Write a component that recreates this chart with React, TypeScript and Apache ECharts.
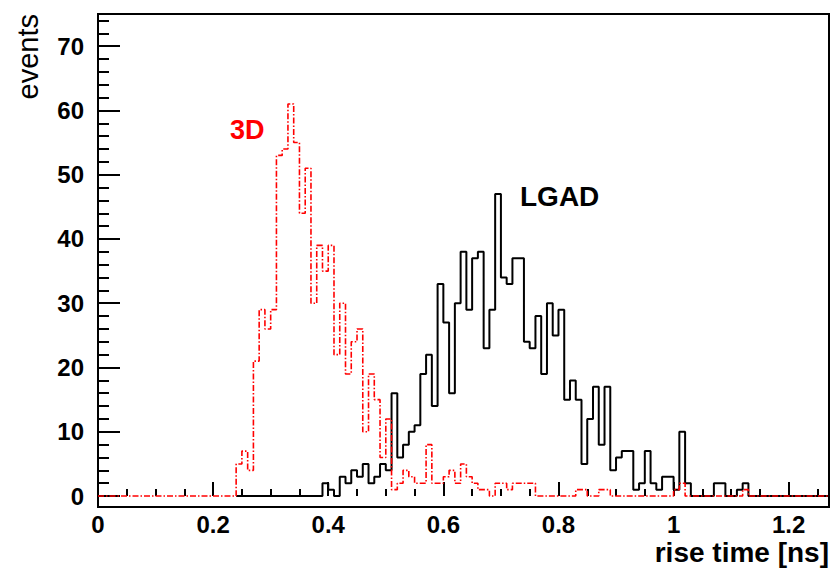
import React, { useEffect, useRef } from "react";
import * as echarts from "echarts";

// ---- data -------------------------------------------------------------
const BIN_WIDTH = 0.01; // ns
const X_MIN = 0;
const X_MAX = 1.27;
const Y_MIN = -1.7;
const Y_MAX = 75;

// LGAD histogram: counts per 0.01 ns bin, first bin starts at lgadStart
const lgadStart = 0.39;
const lgadDrawFrom = 0.24; // black outline baseline visible from here
const lgadCounts = [
  2, 1, 0, 3, 2, 4, 3, 5, 2, 3, // 0.39 - 0.48
  5, 4, 16, 6, 8, 10, 11, 19, 22, 14, // 0.49 - 0.58
  33, 27, 16, 30, 38, 29, 37, 38, 23, 29, // 0.59 - 0.68
  47, 34, 33, 37, 37, 24, 23, 28, 19, 30, // 0.69 - 0.78
  25, 29, 15, 18, 15, 5, 12, 17, 8, 17, // 0.79 - 0.88
  4, 6, 7, 7, 1, 2, 7, 2, 1, 3, // 0.89 - 0.98
  3, 1, 10, 2, 0, 0, 0, 0, 2, 2, // 0.99 - 1.08
  0, 0, 1, 2, // 1.09 - 1.12
];

// 3D histogram
const d3Start = 0.24;
const d3DrawFrom = 0;
const d3Counts = [
  5, 7, 4, 21, 29, 26, 29, 53, 54, 61, // 0.24 - 0.33
  55, 44, 51, 30, 39, 35, 39, 22, 30, 19, // 0.34 - 0.43
  24, 26, 10, 19, 15, 6, 12, 1, 2, 4, // 0.44 - 0.53
  3, 2, 2, 8, 2, 2, 3, 4, 2, 5, // 0.54 - 0.63
  3, 2, 1, 1, 0, 2, 2, 1, 2, 2, // 0.64 - 0.73
  2, 2, 0, 0, 0, 0, 0, 0, 0, 1, // 0.74 - 0.83
  1, 0, 0, 1, 1, 0, 0, 0, 0, 0, // 0.84 - 0.93
  0, 0, 0, 0, 0, 0, 1, 2, 0, 0, // 0.94 - 1.03
  0, 0, 0, 0, 0, 0, 0, 0, 1, // 1.04 - 1.12
];

const xMajorTicks = [0, 0.2, 0.4, 0.6, 0.8, 1, 1.2];
const xMinorTicks = [
  0.05, 0.1, 0.15, 0.25, 0.3, 0.35, 0.45, 0.5, 0.55, 0.65, 0.7, 0.75,
  0.85, 0.9, 0.95, 1.05, 1.1, 1.15, 1.25,
];
const yMajorTicks = [0, 10, 20, 30, 40, 50, 60, 70];
const yMinorTicks = [
  2, 4, 6, 8, 12, 14, 16, 18, 22, 24, 26, 28, 32, 34, 36, 38, 42, 44, 46,
  48, 52, 54, 56, 58, 62, 64, 66, 68, 72, 74,
];

const FONT = "'Liberation Sans', Arial, Helvetica, sans-serif";

function histPoints(drawFrom: number, start: number, counts: number[]): number[][] {
  const pts: number[][] = [[drawFrom, 0]];
  counts.forEach((c, i) => {
    pts.push([Number((start + i * BIN_WIDTH).toFixed(2)), c]);
  });
  const end = Number((start + counts.length * BIN_WIDTH).toFixed(2));
  pts.push([end, 0]);
  pts.push([X_MAX, 0]);
  return pts;
}

export default function App() {
  const ref = useRef<HTMLDivElement>(null);

  useEffect(() => {
    if (!ref.current) return;
    const chart = echarts.init(ref.current, undefined, { renderer: "svg" });

    const baseX = {
      type: "value",
      min: X_MIN,
      max: X_MAX,
      position: "bottom",
      gridIndex: 0,
      axisLine: { show: false },
      splitLine: { show: false },
    };
    const baseY = {
      type: "value",
      min: Y_MIN,
      max: Y_MAX,
      position: "left",
      gridIndex: 0,
      axisLine: { show: false },
      splitLine: { show: false },
    };

    chart.setOption({
      animation: false,
      backgroundColor: "#ffffff",
      grid: {
        left: 98,
        right: 2,
        top: 14,
        bottom: 61,
        show: true,
        borderColor: "#000",
        borderWidth: 2,
        backgroundColor: "transparent",
      },
      xAxis: [
        {
          ...baseX,
          axisTick: {
            show: true,
            inside: true,
            length: 14,
            customValues: xMajorTicks,
            lineStyle: { color: "#000", width: 2 },
          },
          axisLabel: {
            show: true,
            customValues: xMajorTicks,
            formatter: (v: number) => String(v),
            color: "#000",
            fontFamily: FONT,
            fontWeight: "bold",
            fontSize: 24,
            margin: 5,
          },
        },
        {
          ...baseX,
          axisTick: {
            show: true,
            inside: true,
            length: 7,
            customValues: xMinorTicks,
            lineStyle: { color: "#000", width: 2 },
          },
          axisLabel: { show: false },
        },
      ],
      yAxis: [
        {
          ...baseY,
          axisTick: {
            show: true,
            inside: true,
            length: 22,
            customValues: yMajorTicks,
            lineStyle: { color: "#000", width: 2 },
          },
          axisLabel: {
            show: true,
            customValues: yMajorTicks,
            color: "#000",
            fontFamily: FONT,
            fontWeight: "bold",
            fontSize: 24,
            margin: 14,
          },
        },
        {
          ...baseY,
          axisTick: {
            show: true,
            inside: true,
            length: 11,
            customValues: yMinorTicks,
            lineStyle: { color: "#000", width: 2 },
          },
          axisLabel: { show: false },
        },
      ],
      series: [
        {
          name: "LGAD",
          type: "line",
          step: "end",
          xAxisIndex: 0,
          yAxisIndex: 0,
          data: histPoints(lgadDrawFrom, lgadStart, lgadCounts),
          showSymbol: false,
          lineStyle: { color: "#000", width: 2 },
          z: 2,
        },
        {
          name: "3D",
          type: "line",
          step: "end",
          xAxisIndex: 0,
          yAxisIndex: 0,
          data: histPoints(d3DrawFrom, d3Start, d3Counts),
          showSymbol: false,
          lineStyle: { color: "#ff0000", width: 1.6, type: [6, 2, 1.5, 2] },
          z: 3,
        },
      ],
      graphic: [
        {
          type: "text",
          x: 230,
          y: 116,
          style: {
            text: "3D",
            fill: "#ff0000",
            font: `bold 27px ${FONT}`,
          },
        },
        {
          type: "text",
          x: 520,
          y: 182,
          style: {
            text: "LGAD",
            fill: "#000",
            font: `bold 28px ${FONT}`,
          },
        },
        {
          type: "text",
          x: 28,
          y: 14,
          rotation: Math.PI / 2,
          style: {
            text: "events",
            fill: "#000",
            font: `29px ${FONT}`,
            textAlign: "right",
            textVerticalAlign: "middle",
          },
        },
        {
          type: "text",
          x: 829,
          y: 552,
          style: {
            text: "rise time [ns]",
            fill: "#000",
            font: `bold 28px ${FONT}`,
            textAlign: "right",
            textVerticalAlign: "middle",
          },
        },
      ],
    });

    return () => chart.dispose();
  }, []);

  return (
    <div
      ref={ref}
      style={{ position: "fixed", left: 0, top: 0, width: 831, height: 568 }}
    />
  );
}
